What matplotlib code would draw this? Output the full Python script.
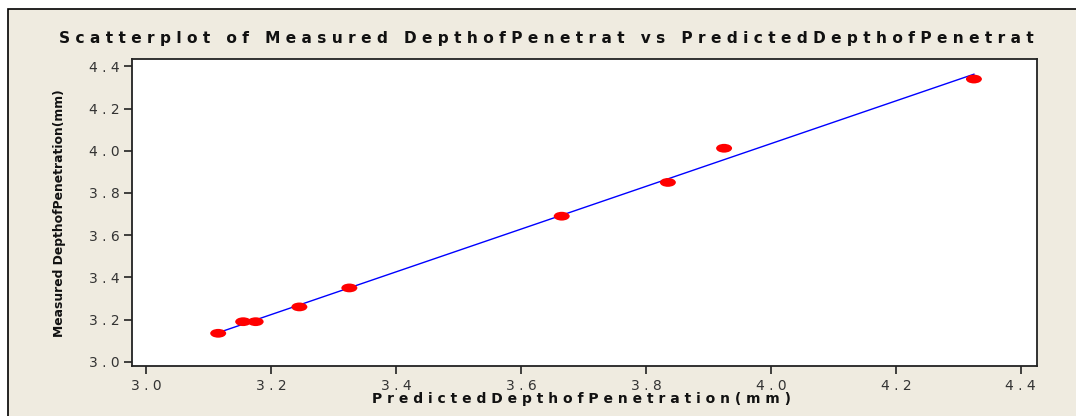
import numpy as np
import matplotlib
matplotlib.use("Agg")
import matplotlib.pyplot as plt
from matplotlib.path import Path
from matplotlib.transforms import Affine2D
from matplotlib.patches import Rectangle

predicted = [3.115, 3.155, 3.175, 3.245, 3.325, 3.665, 3.835, 3.925, 4.325]
measured = [3.135, 3.19, 3.19, 3.26, 3.35, 3.69, 3.85, 4.012, 4.34]
x_ticks = [3.0, 3.2, 3.4, 3.6, 3.8, 4.0, 4.2, 4.4]
y_ticks = [3.0, 3.2, 3.4, 3.6, 3.8, 4.0, 4.2, 4.4]
title = "Scatterplot of Measured DepthofPenetrat vs PredictedDepthofPenetrat"
xlabel = "PredictedDepthofPenetration(mm)"
ylabel = "Measured DepthofPenetration(mm)"

def spaced(s):
    return " ".join(list(s))

W, H = 1076, 416
fig = plt.figure(figsize=(W / 100, H / 100), dpi=100, facecolor="white")
bg = Rectangle((8 / W, -0.1), 1.2, 1 - 9 / H + 0.1, transform=fig.transFigure,
               facecolor="#EFEBE0", edgecolor="black", linewidth=1.2, zorder=-10)
fig.patches.append(bg)

L, R, T, B = 132, 1037, 59, 366
ax = fig.add_axes([L / W, 1 - B / H, (R - L) / W, (B - T) / H])
ax.set_facecolor("white")

ell = Path.unit_circle().transformed(Affine2D().scale(1.0, 0.55))
ax.scatter(predicted, measured, marker=ell, s=(11.5) ** 2, color="#FF0000",
           edgecolors="none", zorder=3)

coef = np.polyfit(predicted, measured, 1)
xs = np.array([min(predicted), max(predicted)])
ax.plot(xs, np.polyval(coef, xs), color="#0000FF", lw=1.0, zorder=2)

ax.set_xlim(2.977, 4.426)
ax.set_ylim(2.98, 4.435)
ax.set_xticks(x_ticks)
ax.set_yticks(y_ticks)
ax.set_xticklabels([spaced(f"{v:.1f}") for v in x_ticks])
ax.set_yticklabels([spaced(f"{v:.1f}") for v in y_ticks])
ax.tick_params(direction="out", length=6, width=1.2, colors="#222222",
               labelsize=10, labelcolor="#333333", pad=3)
for sp in ax.spines.values():
    sp.set_color("#222222")
    sp.set_linewidth(1.3)

fig.text(546 / W, 1 - 38 / H, spaced(title), ha="center", va="center",
         fontsize=11.1, fontweight="bold", color="#111111")
fig.text(582 / W, 1 - 399 / H, spaced(xlabel), ha="center", va="center",
         fontsize=10, fontweight="bold", color="#111111")
fig.text(60 / W, 1 - 213 / H, ylabel, ha="center", va="center", rotation=90,
         fontsize=8.9, fontweight="bold", color="#111111")

fig.savefig("out.png", dpi=100, facecolor="white")
